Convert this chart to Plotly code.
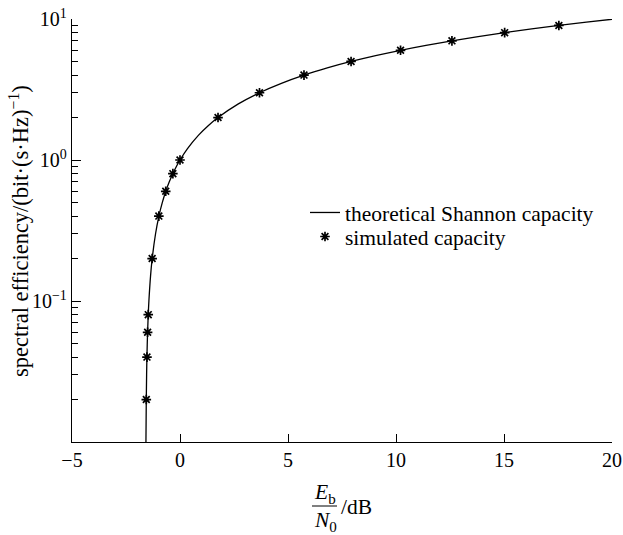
import plotly.graph_objects as go

# Theoretical Shannon capacity curve (Eb/N0 in dB, spectral efficiency in bit/(s·Hz))
theory_ebn0_db = [-1.577, -1.561, -1.546, -1.531, -1.501, -1.471, -1.440, -1.364, -1.287,
                  -1.132, -0.976, -0.817, -0.658, -0.496, -0.333, -0.167, 0.0, 0.339,
                  0.860, 1.305, 1.761, 2.701, 3.680, 4.694, 5.740, 6.818, 7.924, 9.056,
                  10.212, 11.390, 12.587, 13.803, 15.034, 16.281, 17.542, 18.815, 20.099]
theory_eff = [0.01, 0.02, 0.03, 0.04, 0.06, 0.08, 0.1, 0.15, 0.2,
              0.3, 0.4, 0.5, 0.6, 0.7, 0.8, 0.9, 1.0, 1.2,
              1.5, 1.75, 2.0, 2.5, 3.0, 3.5, 4.0, 4.5, 5.0, 5.5,
              6.0, 6.5, 7.0, 7.5, 8.0, 8.5, 9.0, 9.5, 10.0]

# Simulated capacity points
sim_ebn0_db = [-1.56, -1.53, -1.50, -1.47, -1.29, -0.98, -0.66, -0.33, 0.0,
               1.76, 3.68, 5.74, 7.92, 10.21, 12.59, 15.03, 17.54]
sim_eff = [0.02, 0.04, 0.06, 0.08, 0.2, 0.4, 0.6, 0.8, 1.0,
           2, 3, 4, 5, 6, 7, 8, 9]

y_tickvals = [0.1, 1, 10]
y_ticktext = ["10<sup>\u22121</sup>", "10<sup>0</sup>", "10<sup>1</sup>"]
x_tickvals = [-5, 0, 5, 10, 15, 20]
x_ticktext = ["\u22125", "0", "5", "10", "15", "20"]

FONT = "Liberation Serif"
FS_TICK = 20
FS_TEXT = 21.5

fig = go.Figure()
fig.add_trace(go.Scatter(
    x=theory_ebn0_db, y=theory_eff, mode="lines", line=dict(color="black", width=1.3, shape="spline"),
    name="theoretical Shannon capacity", legend="legend"))
fig.add_trace(go.Scatter(
    x=sim_ebn0_db, y=sim_eff, mode="markers",
    marker=dict(symbol="asterisk-open", size=8, color="black", line=dict(color="black", width=1.7)),
    name="simulated capacity", legend="legend2"))

L, R, T, B = 72, 11, 19, 93
W, H = 623, 535
pw, ph = W - L - R, H - T - B

def px(xpix):
    return (xpix - L) / pw

def py(ypix):
    return (H - B - ypix) / ph

leg_common = dict(xanchor="left", yanchor="top", bgcolor="rgba(0,0,0,0)", borderwidth=0,
                  font=dict(size=FS_TEXT, family=FONT))

fig.update_layout(
    template="none",
    width=W, height=H,
    margin=dict(l=L, r=R, t=T, b=B, pad=0),
    paper_bgcolor="white", plot_bgcolor="white",
    font=dict(family=FONT, size=FS_TICK, color="black"),
    showlegend=True,
    legend=dict(x=px(305), y=py(192), **leg_common),
    legend2=dict(x=px(305), y=py(216), **leg_common),
    xaxis=dict(range=[-5, 20], tickvals=x_tickvals, ticktext=x_ticktext, automargin=False,
               showgrid=False, zeroline=False, showline=True, linecolor="black", linewidth=1.3,
               ticks="inside", ticklen=8, tickwidth=1.2, tickcolor="black",
               tickfont=dict(size=FS_TICK, family=FONT)),
    yaxis=dict(type="log", range=[-2, 1], tickvals=y_tickvals, ticktext=y_ticktext, automargin=False,
               showgrid=False, zeroline=False, showline=True, linecolor="black", linewidth=1.3,
               ticks="inside", ticklen=9, tickwidth=1.2, tickcolor="black",
               tickfont=dict(size=FS_TICK, family=FONT),
               minor=dict(ticks="inside", ticklen=6, tickwidth=1.2, tickcolor="black",
                          dtick="D1", showgrid=False)),
)

# y axis title
fig.add_annotation(text="spectral efficiency/(bit\u00b7(s\u00b7Hz)<sup>\u22121</sup>)",
                   xref="paper", yref="paper", x=px(19), y=py(231), textangle=-90,
                   showarrow=False, font=dict(size=22.5, family=FONT), xanchor="center", yanchor="middle")

# x axis title as a fraction Eb / N0 /dB
fig.add_annotation(text="<i>E</i><sub>b</sub>", xref="paper", yref="paper",
                   x=px(325), y=py(493), showarrow=False, font=dict(size=FS_TEXT, family=FONT),
                   xanchor="center", yanchor="middle")
fig.add_annotation(text="<i>N</i><sub>0</sub>", xref="paper", yref="paper",
                   x=px(325), y=py(521), showarrow=False, font=dict(size=FS_TEXT, family=FONT),
                   xanchor="center", yanchor="middle")
fig.add_annotation(text="/dB", xref="paper", yref="paper",
                   x=px(339), y=py(507), showarrow=False, font=dict(size=FS_TEXT, family=FONT),
                   xanchor="left", yanchor="middle")
fig.add_shape(type="line", xref="paper", yref="paper",
              x0=px(312), x1=px(337), y0=py(506), y1=py(506),
              line=dict(color="black", width=1))

fig.write_html("out.html", config={"displayModeBar": False},
               post_script="document.body.style.margin='0';document.body.style.overflow='hidden';")
